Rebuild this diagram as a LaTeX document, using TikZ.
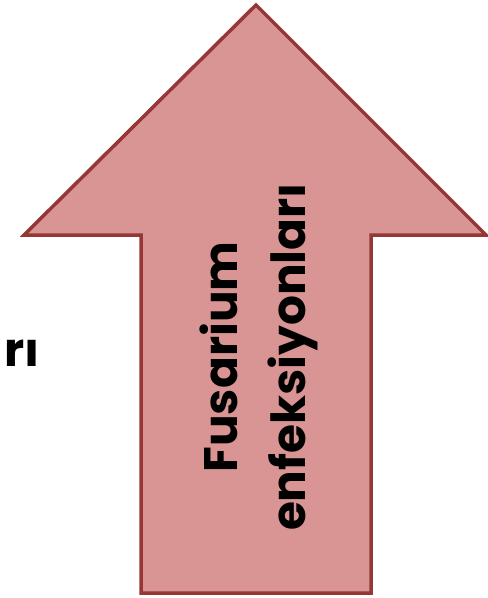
\documentclass[tikz,border=0pt]{standalone}
\usepackage{fontspec}
\setmainfont{Poppins}
\definecolor{arrowfill}{HTML}{D99594}
\definecolor{arrowline}{HTML}{953735}
\begin{document}
\begin{tikzpicture}[x=1pt,y=-1pt,
  arrowshape/.style={fill=arrowfill,draw=arrowline,line width=3.5pt,line join=miter},
  lbl/.style={font=\fontsize{47}{68}\selectfont\bfseries,text=black,inner sep=0pt}]
\useasboundingbox (0,0) rectangle (488,598);
\path[arrowshape] (256,5) -- (486,235) -- (371,235) -- (371,593) -- (141,593) -- (141,235) -- (24,235) -- cycle;
\node[lbl,rotate=90,align=center] (t) at (259,357) {Fusarium\\enfeksiyonları};
\node[lbl,anchor=base east] (r) at (40,366) {rı};
\end{tikzpicture}
\end{document}
